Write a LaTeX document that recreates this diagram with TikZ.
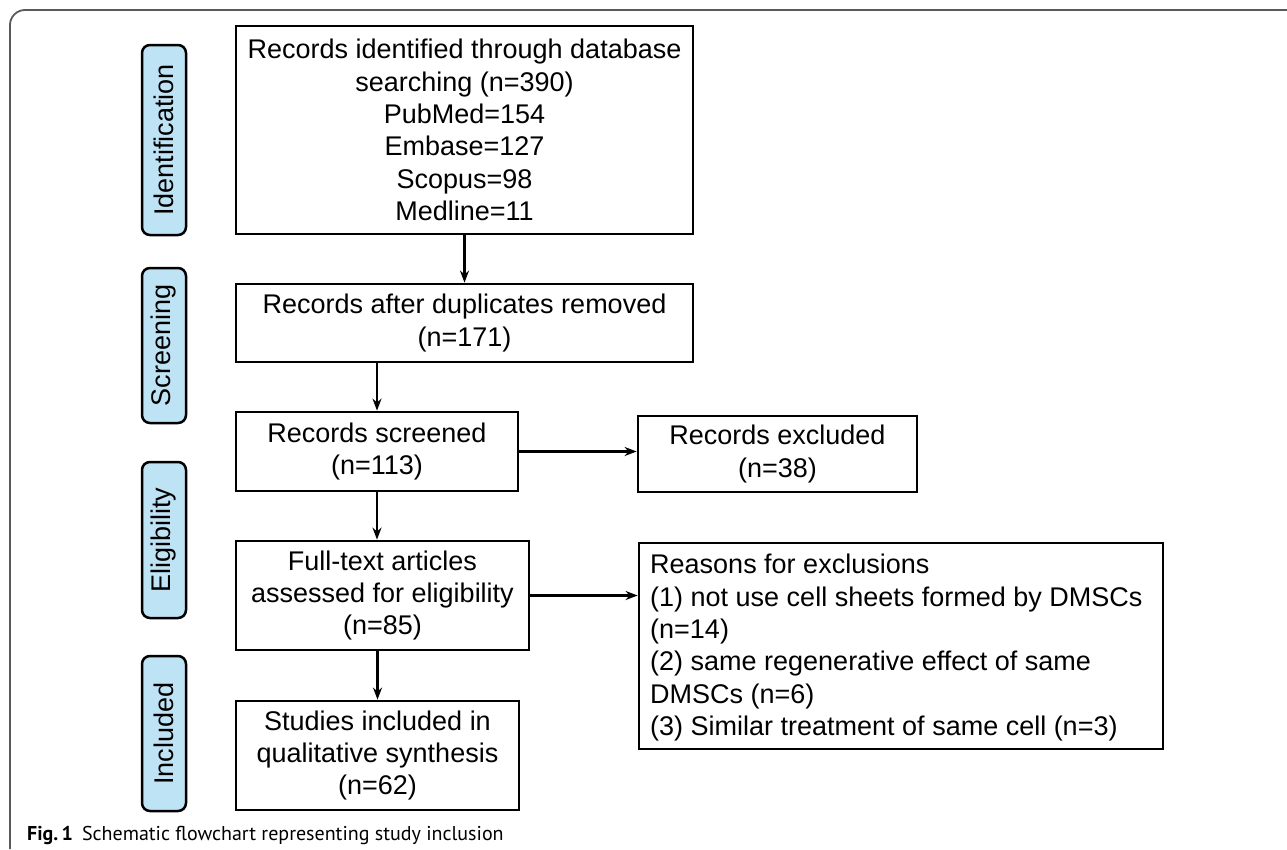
\documentclass[tikz,border=0pt]{standalone}
\usepackage{fontspec}
\setmainfont{Liberation Sans}
\newfontfamily\capfont{PT Sans}
\usetikzlibrary{arrows.meta}
\definecolor{labelblue}{RGB}{190,227,245}
\definecolor{framegray}{RGB}{90,90,90}
\tikzset{
  flowbox/.style={draw=black, line width=2.8pt, inner sep=0pt, align=center,
    font=\fontsize{27}{32.4}\selectfont},
  stagebox/.style={draw=black, line width=2.5pt, fill=labelblue, rounded corners=8pt,
    rotate=90, inner sep=0pt, minimum height=44pt,
    font=\fontsize{27}{32}\selectfont},
  flowarrow/.style={line width=2.4pt, -{Stealth[length=12pt,width=9pt]}}
}
\begin{document}
\begin{tikzpicture}[x=1pt,y=-1pt]
\useasboundingbox (0,0) rectangle (1287,849);
\fill[white] (0,0) rectangle (1287,849);
\draw[framegray, line width=1.8pt, rounded corners=15pt] (10,849) -- (10,10) -- (1287,10);

% stage labels
\node[stagebox, minimum width=190pt] (sid) at (164,140) {Identification};
\node[stagebox, minimum width=155pt] (ssc) at (164,345.5) {Screening};
\node[stagebox, minimum width=156pt] (sel) at (164,540) {Eligibility};
\node[stagebox, minimum width=155pt] (sin) at (164,733.5) {Included};

% boxes
\node[flowbox, minimum width=457pt, minimum height=208pt] (b1) at (464.5,130)
  {Records identified through database\\searching (n=390)\\PubMed=154\\Embase=127\\Scopus=98\\Medline=11};
\node[flowbox, minimum width=457pt, minimum height=78pt] (b2) at (464.5,323)
  {Records after duplicates removed\\(n=171)};
\node[flowbox, minimum width=282pt, minimum height=79pt] (b3) at (377,451.5)
  {Records screened\\(n=113)};
\node[flowbox, minimum width=279pt, minimum height=76pt] (b4) at (777.5,454)
  {Records excluded\\(n=38)};
\node[flowbox, minimum width=293pt, minimum height=109pt] (b5) at (382.5,595.5)
  {Full-text articles\\assessed for eligibility\\(n=85)};
\node[draw=black, line width=2.8pt, minimum width=524pt, minimum height=206pt, inner sep=0pt] (b6) at (901,646) {};
\node[anchor=north west, inner sep=0pt, align=left, font=\fontsize{27}{32.4}\selectfont] (b6t) at (650,554)
  {Reasons for exclusions\\(1) not use cell sheets formed by DMSCs\\(n=14)\\(2) same regenerative effect of same\\DMSCs (n=6)\\(3) Similar treatment of same cell (n=3)};
\node[flowbox, minimum width=283pt, minimum height=109pt] (b7) at (377.5,755.5)
  {Studies included in\\qualitative synthesis\\(n=62)};

% arrows
\draw[flowarrow] (b1.south) -- (b2.north);
\draw[flowarrow] (b2.south -| b3.north) -- (b3.north);
\draw[flowarrow] (b3.east) -- (b3.east -| b4.west);
\draw[flowarrow] (b3.south) -- (b3.south |- b5.north);
\draw[flowarrow] (b5.east) -- (b5.east -| b6.west);
\draw[flowarrow] (b7.north |- b5.south) -- (b7.north);

% caption
\node[anchor=base west, inner sep=0pt, font=\capfont\fontsize{20}{24}\selectfont] (cap) at (27,840)
  {\textbf{Fig.\,1}\hspace{9pt}Schematic flowchart representing study inclusion};
\end{tikzpicture}
\end{document}
